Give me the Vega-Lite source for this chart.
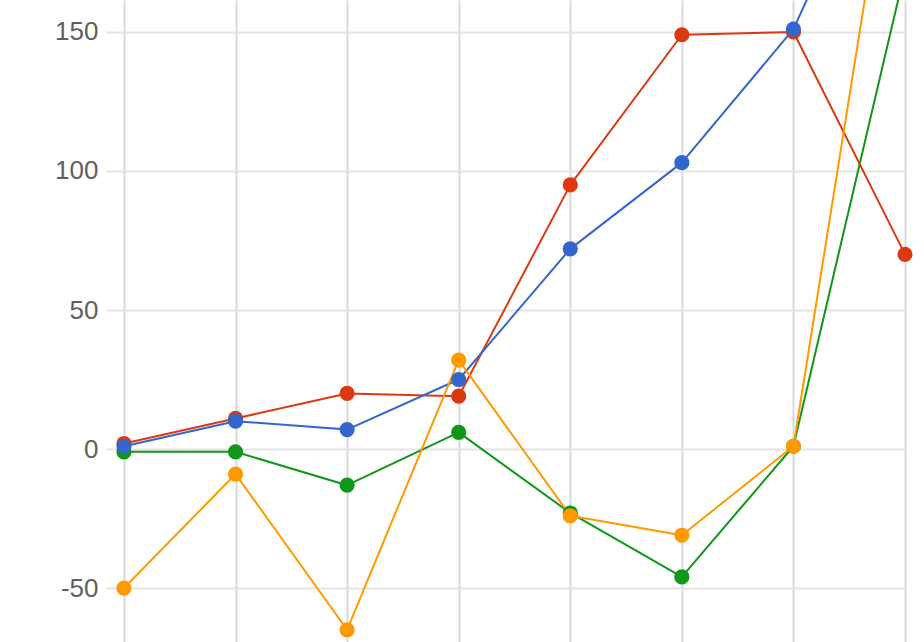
{
  "$schema": "https://vega.github.io/schema/vega-lite/v6.json",
  "width": 799,
  "height": 642,
  "autosize": {"type": "none"},
  "padding": {"left": 106, "top": 0, "right": 19, "bottom": 0},
  "background": "white",
  "config": {"view": {"stroke": null}},
  "data": {
    "values": [
      {"x": 0, "series": "Series D", "value": -1},
      {"x": 1, "series": "Series D", "value": -1},
      {"x": 2, "series": "Series D", "value": -13},
      {"x": 3, "series": "Series D", "value": 6},
      {"x": 4, "series": "Series D", "value": -23},
      {"x": 5, "series": "Series D", "value": -46},
      {"x": 6, "series": "Series D", "value": 1},
      {"x": 7, "series": "Series D", "value": 172},
      {"x": 0, "series": "Series B", "value": 2},
      {"x": 1, "series": "Series B", "value": 11},
      {"x": 2, "series": "Series B", "value": 20},
      {"x": 3, "series": "Series B", "value": 19},
      {"x": 4, "series": "Series B", "value": 95},
      {"x": 5, "series": "Series B", "value": 149},
      {"x": 6, "series": "Series B", "value": 150},
      {"x": 7, "series": "Series B", "value": 70},
      {"x": 0, "series": "Series A", "value": 1},
      {"x": 1, "series": "Series A", "value": 10},
      {"x": 2, "series": "Series A", "value": 7},
      {"x": 3, "series": "Series A", "value": 25},
      {"x": 4, "series": "Series A", "value": 72},
      {"x": 5, "series": "Series A", "value": 103},
      {"x": 6, "series": "Series A", "value": 151},
      {"x": 7, "series": "Series A", "value": 239},
      {"x": 0, "series": "Series C", "value": -50},
      {"x": 1, "series": "Series C", "value": -9},
      {"x": 2, "series": "Series C", "value": -65},
      {"x": 3, "series": "Series C", "value": 32},
      {"x": 4, "series": "Series C", "value": -24},
      {"x": 5, "series": "Series C", "value": -31},
      {"x": 6, "series": "Series C", "value": 1},
      {"x": 7, "series": "Series C", "value": 252}
    ]
  },
  "encoding": {
    "x": {
      "field": "x",
      "type": "quantitative",
      "scale": {"domain": [-0.161, 7], "nice": false, "zero": false},
      "axis": {
        "values": [0, 1, 2, 3, 4, 5, 6, 7],
        "labels": false,
        "ticks": false,
        "domain": false,
        "grid": true,
        "gridColor": "#d9d9d9",
        "gridWidth": 2,
        "title": null
      }
    },
    "y": {
      "field": "value",
      "type": "quantitative",
      "scale": {"domain": [-69.4, 161.5], "nice": false, "zero": false},
      "axis": {
        "values": [-50, 0, 50, 100, 150],
        "labelExpr": "'' + datum.value",
        "ticks": false,
        "domain": false,
        "grid": true,
        "gridColor": "#e4e4e4",
        "gridWidth": 2,
        "labelFont": "Liberation Sans",
        "labelFontSize": 26,
        "labelColor": "#5f5f5f",
        "labelPadding": 8,
        "title": null
      }
    },
    "color": {
      "field": "series",
      "type": "nominal",
      "scale": {
        "domain": ["Series D", "Series B", "Series A", "Series C"],
        "range": ["#109618", "#dc3912", "#3366cc", "#ff9900"]
      },
      "legend": null
    }
  },
  "layer": [
    {
      "mark": {"type": "line", "clip": true, "strokeWidth": 2, "strokeJoin": "round"}
    },
    {
      "transform": [{"filter": "datum.value < 161"}],
      "mark": {"type": "point", "filled": true, "opacity": 1, "size": 230}
    }
  ]
}
